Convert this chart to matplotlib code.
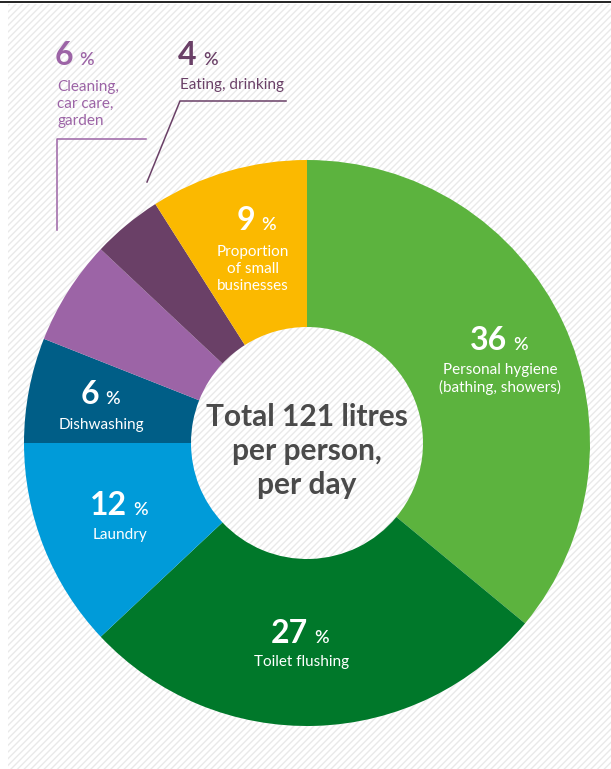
import matplotlib.pyplot as plt
from matplotlib.patches import Rectangle

# data
categories = ["Personal hygiene\n(bathing, showers)", "Toilet flushing", "Laundry",
              "Dishwashing", "Cleaning,\ncar care,\ngarden", "Eating, drinking",
              "Proportion\nof small\nbusinesses"]
shares = [36, 27, 12, 6, 6, 4, 9]
colors = ["#5cb33e", "#00782a", "#009bd9", "#005e87", "#9c64a6", "#6a4067", "#fbb900"]

FONT = "Lato"
H = 769

fig = plt.figure(figsize=(6.11, 7.69), dpi=100)
ax = fig.add_axes([0, 0, 1, 1])

# hatched background
ax.add_patch(Rectangle((8, 0), 603, 765, facecolor="white", edgecolor="#e9e9e9",
                       hatch="/////", lw=0, zorder=0))
ax.plot([0, 611], [H - 2, H - 2], color="#222222", lw=1.4, zorder=1)

ax.pie(shares, colors=colors, startangle=90, counterclock=False,
       center=(307, H - 443), radius=283, frame=True,
       wedgeprops=dict(width=283 - 116, linewidth=0, zorder=2))
ax.set_xlim(0, 611)
ax.set_ylim(0, H)
ax.axis("off")


def pct(x, y, val, col, size=23):
    # number right aligned at x, small % sign after it, baseline at y (image px)
    ax.text(x, H - y, str(val), ha="right", va="baseline", color=col,
            fontsize=size, fontweight="bold", family=FONT, zorder=5)
    ax.text(x + 6, H - y, "%", ha="left", va="baseline", color=col,
            fontsize=13, fontweight="semibold", family=FONT, zorder=5)


def lab(x, y, s, col="white", ha="center"):
    ax.text(x, H - y, s, ha=ha, va="center", color=col, fontsize=11,
            family=FONT, linespacing=1.3, zorder=5)


# inside labels
pct(507, 350, shares[0], "white")
lab(500, 379, categories[0])
pct(308, 643, shares[1], "white")
lab(302, 662, categories[1])
pct(127, 515, shares[2], "white")
lab(120, 535, categories[2])
pct(99, 404, shares[3], "white")
lab(101, 425, categories[3])
pct(255, 230, shares[6], "white")
lab(253, 269, categories[6])

# outside labels with leader lines
pct(73, 65, shares[4], colors[4])
lab(57, 104, categories[4], col=colors[4], ha="left")
ax.plot([146, 57, 57], [H - 139, H - 139, H - 230], color=colors[4], lw=1.1, zorder=4)

pct(197, 65, shares[5], colors[5])
lab(180, 85, categories[5], col=colors[5], ha="left")
ax.plot([286, 180, 147], [H - 101, H - 101, H - 182], color=colors[5], lw=1.1, zorder=4)

# centre text
ax.text(307, H - 451, "Total 121 litres\nper person,\nper day", ha="center", va="center",
        color="#4a4a4a", fontsize=21.5, fontweight="bold", family=FONT,
        linespacing=1.24, zorder=5)

fig.savefig("out.png", dpi=100)
